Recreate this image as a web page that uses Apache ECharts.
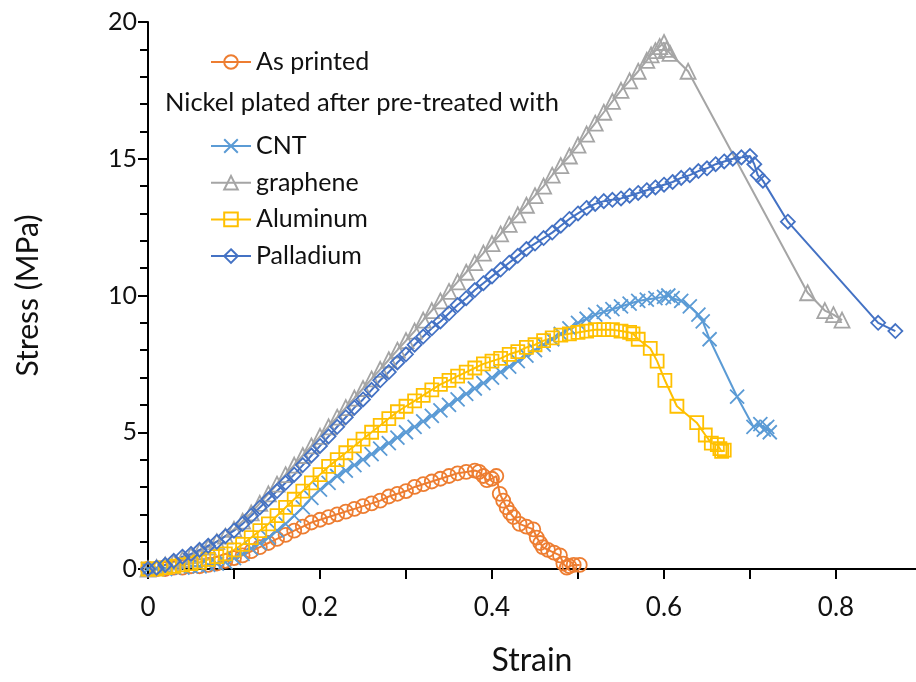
<!DOCTYPE html>
<html>
<head>
<meta charset="utf-8">
<script src="https://cdn.jsdelivr.net/npm/echarts@6/dist/echarts.min.js"></script>
<style>
  html, body { margin: 0; padding: 0; background: #fff; }
  #chart { width: 916px; height: 682px; }
</style>
</head>
<body>
<div id="chart"></div>
<script>
// series names, in drawing order
var seriesNames = ['As printed', 'CNT', 'graphene', 'Aluminum', 'Palladium'];

// [strain, stress (MPa)]
var asPrinted = [
  [0, 0], [0.01, 0], [0.02, 0], [0.03, 0.05], [0.04, 0.05], [0.05, 0.1], [0.06, 0.1], [0.07, 0.15],
  [0.08, 0.2], [0.09, 0.3], [0.10, 0.4], [0.11, 0.5], [0.12, 0.65], [0.13, 0.8], [0.14, 0.95],
  [0.15, 1.1], [0.16, 1.25], [0.17, 1.4], [0.18, 1.55], [0.19, 1.7], [0.20, 1.8], [0.21, 1.9],
  [0.22, 2.0], [0.23, 2.1], [0.24, 2.2], [0.25, 2.3], [0.26, 2.4], [0.27, 2.5], [0.28, 2.65],
  [0.29, 2.75], [0.30, 2.85], [0.31, 3.0], [0.32, 3.1], [0.33, 3.2], [0.34, 3.3], [0.35, 3.4],
  [0.36, 3.5], [0.37, 3.55], [0.38, 3.6], [0.385, 3.55], [0.39, 3.4], [0.394, 3.25], [0.40, 3.3],
  [0.405, 3.4], [0.409, 2.75], [0.413, 2.5], [0.417, 2.25], [0.421, 2.05], [0.425, 1.9], [0.432, 1.65],
  [0.44, 1.55], [0.448, 1.45], [0.452, 1.15], [0.456, 0.95], [0.459, 0.8], [0.465, 0.7], [0.472, 0.6],
  [0.479, 0.5], [0.483, 0.2], [0.487, 0.05], [0.49, 0.1], [0.495, 0.15], [0.502, 0.15]
];

var cnt = [
  [0, 0], [0.01, 0], [0.02, 0], [0.03, 0.05], [0.04, 0.05], [0.05, 0.1], [0.06, 0.1], [0.07, 0.15],
  [0.08, 0.2], [0.09, 0.25], [0.10, 0.4], [0.11, 0.55], [0.12, 0.75], [0.13, 0.95], [0.14, 1.15],
  [0.15, 1.4], [0.16, 1.65], [0.17, 1.95], [0.18, 2.25], [0.19, 2.6], [0.20, 2.9], [0.21, 3.15],
  [0.22, 3.4], [0.23, 3.6], [0.24, 3.8], [0.25, 4.0], [0.26, 4.2], [0.27, 4.4], [0.28, 4.6],
  [0.29, 4.8], [0.30, 5.0], [0.31, 5.2], [0.32, 5.4], [0.33, 5.6], [0.34, 5.8], [0.35, 6.0],
  [0.36, 6.2], [0.37, 6.4], [0.38, 6.6], [0.39, 6.8], [0.40, 7.0], [0.41, 7.2], [0.42, 7.4],
  [0.43, 7.6], [0.44, 7.8], [0.45, 8.0], [0.46, 8.2], [0.47, 8.4], [0.48, 8.6], [0.49, 8.8],
  [0.50, 9.0], [0.51, 9.15], [0.52, 9.3], [0.53, 9.4], [0.54, 9.5], [0.55, 9.6], [0.56, 9.7],
  [0.57, 9.8], [0.58, 9.85], [0.59, 9.9], [0.60, 9.95], [0.605, 10.0], [0.61, 9.9], [0.62, 9.8],
  [0.63, 9.6], [0.64, 9.3], [0.645, 9.05], [0.653, 8.4], [0.685, 6.3], [0.704, 5.2], [0.712, 5.3],
  [0.716, 5.1], [0.72, 5.2], [0.723, 5.0]
];

var graphene = [
  [0, 0], [0.01, 0.05], [0.02, 0.15], [0.03, 0.25], [0.04, 0.35], [0.05, 0.5], [0.06, 0.65],
  [0.07, 0.8], [0.08, 1.0], [0.09, 1.2], [0.10, 1.45], [0.11, 1.75], [0.12, 2.05], [0.13, 2.4],
  [0.14, 2.75], [0.15, 3.1], [0.16, 3.45], [0.17, 3.8], [0.18, 4.15], [0.19, 4.5], [0.20, 4.85],
  [0.21, 5.2], [0.22, 5.55], [0.23, 5.9], [0.24, 6.25], [0.25, 6.6], [0.26, 6.95], [0.27, 7.3],
  [0.28, 7.65], [0.29, 8.0], [0.30, 8.35], [0.31, 8.7], [0.32, 9.1], [0.33, 9.45], [0.34, 9.8],
  [0.35, 10.15], [0.36, 10.5], [0.37, 10.85], [0.38, 11.2], [0.39, 11.55], [0.40, 11.9],
  [0.41, 12.25], [0.42, 12.6], [0.43, 12.95], [0.44, 13.3], [0.45, 13.65], [0.46, 14.0],
  [0.47, 14.4], [0.48, 14.75], [0.49, 15.1], [0.50, 15.5], [0.51, 15.9], [0.52, 16.3], [0.53, 16.7],
  [0.54, 17.1], [0.55, 17.5], [0.56, 17.85], [0.57, 18.2], [0.58, 18.6], [0.585, 18.8],
  [0.59, 18.95], [0.595, 19.1], [0.60, 19.25], [0.603, 19.0], [0.607, 18.85], [0.628, 18.2],
  [0.767, 10.1], [0.787, 9.45], [0.797, 9.3], [0.807, 9.1]
];

var aluminum = [
  [0, 0], [0.01, 0], [0.02, 0.05], [0.03, 0.1], [0.04, 0.15], [0.05, 0.2], [0.06, 0.25],
  [0.07, 0.35], [0.08, 0.45], [0.09, 0.55], [0.10, 0.7], [0.11, 0.9], [0.12, 1.15], [0.13, 1.4],
  [0.14, 1.65], [0.15, 1.95], [0.16, 2.25], [0.17, 2.55], [0.18, 2.85], [0.19, 3.15], [0.20, 3.45],
  [0.21, 3.75], [0.22, 4.0], [0.23, 4.25], [0.24, 4.5], [0.25, 4.75], [0.26, 5.0], [0.27, 5.25],
  [0.28, 5.5], [0.29, 5.75], [0.30, 5.95], [0.31, 6.15], [0.32, 6.35], [0.33, 6.55], [0.34, 6.75],
  [0.35, 6.9], [0.36, 7.05], [0.37, 7.2], [0.38, 7.35], [0.39, 7.5], [0.40, 7.6], [0.41, 7.7],
  [0.42, 7.85], [0.43, 7.95], [0.44, 8.1], [0.45, 8.2], [0.46, 8.35], [0.47, 8.45], [0.48, 8.55],
  [0.49, 8.6], [0.50, 8.65], [0.51, 8.7], [0.52, 8.75], [0.53, 8.75], [0.54, 8.75], [0.55, 8.7],
  [0.56, 8.65], [0.564, 8.6], [0.57, 8.4], [0.584, 8.07], [0.592, 7.6], [0.601, 6.9],
  [0.615, 5.95], [0.638, 5.35], [0.648, 4.9], [0.655, 4.6], [0.662, 4.55], [0.665, 4.4],
  [0.667, 4.3], [0.67, 4.35]
];

var palladium = [
  [0, 0], [0.01, 0.05], [0.02, 0.15], [0.03, 0.3], [0.04, 0.45], [0.05, 0.55], [0.06, 0.7],
  [0.07, 0.85], [0.08, 1.0], [0.09, 1.2], [0.10, 1.4], [0.11, 1.65], [0.12, 1.95], [0.13, 2.25],
  [0.14, 2.55], [0.15, 2.85], [0.16, 3.15], [0.17, 3.45], [0.18, 3.8], [0.19, 4.15], [0.20, 4.5],
  [0.21, 4.85], [0.22, 5.2], [0.23, 5.55], [0.24, 5.9], [0.25, 6.2], [0.26, 6.55], [0.27, 6.9],
  [0.28, 7.2], [0.29, 7.55], [0.30, 7.85], [0.31, 8.2], [0.32, 8.5], [0.33, 8.8], [0.34, 9.05],
  [0.35, 9.35], [0.36, 9.65], [0.37, 9.9], [0.38, 10.2], [0.39, 10.45], [0.40, 10.7],
  [0.41, 10.95], [0.42, 11.2], [0.43, 11.45], [0.44, 11.7], [0.45, 11.9], [0.46, 12.1],
  [0.47, 12.3], [0.48, 12.55], [0.49, 12.8], [0.50, 13.0], [0.51, 13.2], [0.52, 13.35],
  [0.53, 13.45], [0.54, 13.5], [0.55, 13.55], [0.56, 13.65], [0.57, 13.75], [0.58, 13.85],
  [0.59, 13.95], [0.60, 14.05], [0.61, 14.15], [0.62, 14.3], [0.63, 14.4], [0.64, 14.55],
  [0.65, 14.65], [0.66, 14.8], [0.67, 14.9], [0.68, 15.0], [0.69, 15.05], [0.70, 15.1],
  [0.705, 14.8], [0.709, 14.4], [0.715, 14.2], [0.744, 12.7], [0.849, 9.0], [0.869, 8.7]
];

var seriesData = [asPrinted, cnt, graphene, aluminum, palladium];
var seriesColors = ['#ED7D31', '#5B9BD5', '#A5A5A5', '#FFC000', '#4472C4'];
var seriesSymbols = ['circle', 'path://M0,0L10,10M10,0L0,10', 'triangle', 'rect', 'diamond'];
var symbolSizes = [14, 14, 15, 13, 14];

var font = 'Lato, "Open Sans", sans-serif';
var ink = '#111';

var chart = echarts.init(document.getElementById('chart'), null, { renderer: 'canvas' });

var series = seriesNames.map(function(name, i) {
  return {
    name: name,
    type: 'line',
    data: seriesData[i],
    symbol: seriesSymbols[i],
    symbolSize: symbolSizes[i],
    showAllSymbol: true,
    clip: false,
    lineStyle: { color: seriesColors[i], width: 2 },
    itemStyle: { color: 'rgba(255,255,255,0)', borderColor: seriesColors[i], borderWidth: 1.8 }
  };
});

var legendText = { fontFamily: font, fontSize: 25, color: ink, lineHeight: 26 };

chart.setOption({
  animation: false,
  backgroundColor: '#fff',
  grid: { left: 148, right: 0, top: 22, bottom: 110 },
  legend: [{
    data: ['As printed'],
    orient: 'vertical',
    left: 210,
    top: 49,
    padding: 0,
    itemWidth: 40,
    itemHeight: 17,
    textStyle: legendText
  }, {
    data: ['CNT', 'graphene', 'Aluminum', 'Palladium'],
    orient: 'vertical',
    left: 210,
    top: 133,
    padding: 0,
    itemGap: 10.7,
    itemWidth: 40,
    itemHeight: 17,
    textStyle: legendText
  }],
  graphic: [{
    type: 'text',
    left: 165,
    top: 90,
    style: { text: 'Nickel plated after pre-treated with', font: '25.5px ' + font, fill: ink }
  }],
  xAxis: [{
    type: 'value',
    min: 0,
    max: 0.893,
    interval: 0.1,
    name: 'Strain',
    nameLocation: 'middle',
    nameGap: 76,
    nameTextStyle: { fontFamily: font, fontSize: 32, color: ink },
    axisLine: { onZero: false, lineStyle: { color: '#000', width: 2 } },
    axisTick: { length: 10, lineStyle: { color: '#000', width: 2 } },
    axisLabel: {
      margin: 26,
      fontFamily: font,
      fontSize: 26,
      color: ink,
      showMaxLabel: false,
      formatter: function(v) {
        var k = Math.round(v * 10);
        if (k % 2 !== 0 || v > 0.85) return '';
        return k === 0 ? '0' : (k / 10).toFixed(1);
      }
    },
    splitLine: { show: false }
  }, {
    type: 'value',
    position: 'top',
    min: 0,
    max: 0.893,
    axisLine: { show: true, lineStyle: { color: '#000', width: 2 } },
    axisTick: { show: false },
    axisLabel: { show: false },
    splitLine: { show: false }
  }],
  yAxis: {
    type: 'value',
    min: 0,
    max: 20,
    interval: 5,
    name: 'Stress (MPa)',
    nameLocation: 'middle',
    nameGap: 105,
    nameTextStyle: { fontFamily: font, fontSize: 30, color: ink },
    axisLine: { show: true, lineStyle: { color: '#000', width: 2 } },
    axisTick: { show: true, length: 10, lineStyle: { color: '#000', width: 2 } },
    minorTick: { show: true, splitNumber: 5, length: 8, lineStyle: { color: '#000', width: 2 } },
    axisLabel: { margin: 11, fontFamily: font, fontSize: 25, color: ink },
    splitLine: { show: false }
  },
  series: series
});
window.addEventListener('resize', function() { chart.resize(); });
</script>
</body>
</html>
